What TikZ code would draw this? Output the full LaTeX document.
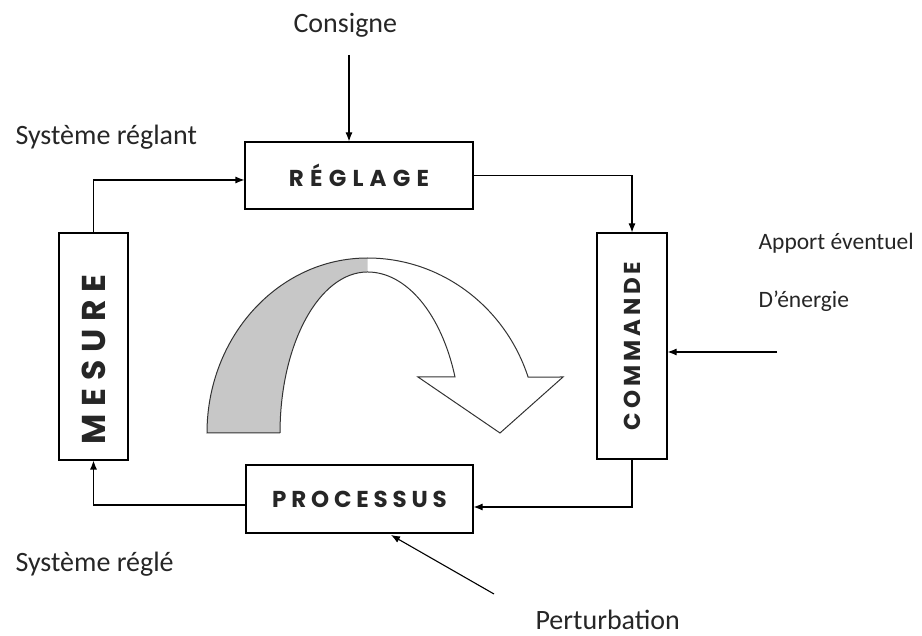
\documentclass[tikz,border=0pt]{standalone}
\usepackage{fontspec}
\setmainfont{Carlito}
\newfontfamily\capsfont{Poppins}
\usetikzlibrary{arrows.meta}

% spaced capitals for the block titles: #1 = size, #2 = letter spacing
\newcommand{\blocktitle}[3]{{\capsfont\bfseries\fontsize{#1}{#1}\selectfont
  \addfontfeature{LetterSpace=#2}#3}}

\begin{document}
\begin{tikzpicture}[x=1pt,y=1pt,
  line width=1.1pt,
  arr/.style={-{Latex[length=9pt,width=7pt]}},
  blk/.style={draw, line width=1.1pt, inner sep=0pt, text=black!85},
  lbl/.style={inner sep=0pt, anchor=base west, text=black!85,
              font=\fontsize{28}{34}\selectfont},
  smalllbl/.style={inner sep=0pt, anchor=base west, text=black!85,
              font=\fontsize{23.5}{28}\selectfont}]
\useasboundingbox (0,0) rectangle (922,-636);

% --- the four blocks of the loop
\node[blk, minimum width=228pt, minimum height=67pt] (reg) at (359,-175.5)
  {\blocktitle{23}{27}{RÉGLAGE}};
\node[blk, minimum width=227pt, minimum height=68pt] (pro) at (359.5,-499)
  {\blocktitle{23}{21}{PROCESSUS}};
\node[blk, minimum width=69pt, minimum height=227pt] (mes) at (93.5,-346.5)
  {\rotatebox{90}{\blocktitle{33}{24}{MESURE}\hspace{26pt}}};
\node[blk, minimum width=70pt, minimum height=226pt] (com) at (632,-346)
  {\rotatebox{90}{\blocktitle{23}{17}{COMMANDE}}};

% --- labels
\node[lbl] (consigne) at (293,-33) {Consigne};
\node[lbl] (sreglant) at (15,-145) {Système réglant};
\node[lbl] (sregle) at (15,-571) {Système réglé};
\node[lbl] (perturb) at (535,-629) {Perturbation};
\node[smalllbl] (apport) at (758,-250) {Apport éventuel};
\node[smalllbl] (energie) at (758,-308) {D’énergie};

% --- connectors
\coordinate (cin) at (349,-55);
\draw[arr] (cin) -- (cin |- reg.north);

\coordinate (k1) at (93.5,-180);
\draw[arr] (mes.north) -- (k1) -- (k1 -| reg.west);

\draw[arr] (reg.east) -| (com.north);

\coordinate (en) at (777,-352);
\draw[arr] (en) -- (en -| com.east);

\coordinate (k3) at (632,-507);
\draw[arr] (com.south) -- (k3) -- (k3 -| pro.east);

\coordinate (k4) at (93.5,-505);
\draw[arr] (k4 -| pro.west) -- (k4) -- (mes.south);

\coordinate (pt) at (494,-594);
\coordinate (ptend) at (391,-535);
\draw[arr] (pt) -- (ptend);

% --- curved arrow: shaded back half and front half with head
\fill[black!22] (207,-433) arc[start angle=180,end angle=90,x radius=160.5,y radius=175]
  -- (367.5,-272) arc[start angle=90,end angle=180,x radius=87.5,y radius=161] -- cycle;
\draw[line width=1pt, black!80, line join=miter]
  (280,-433) -- (207,-433)
  arc[start angle=180,end angle=90,x radius=160.5,y radius=175]
  arc[start angle=90,end angle=18.66,x radius=169.5,y radius=175]
  -- (563,-377) -- (500,-433) -- (418,-377) -- (455,-377)
  arc[start angle=20.35,end angle=90,x radius=93.3,y radius=161]
  arc[start angle=90,end angle=180,x radius=87.5,y radius=161];
\end{tikzpicture}
\end{document}
